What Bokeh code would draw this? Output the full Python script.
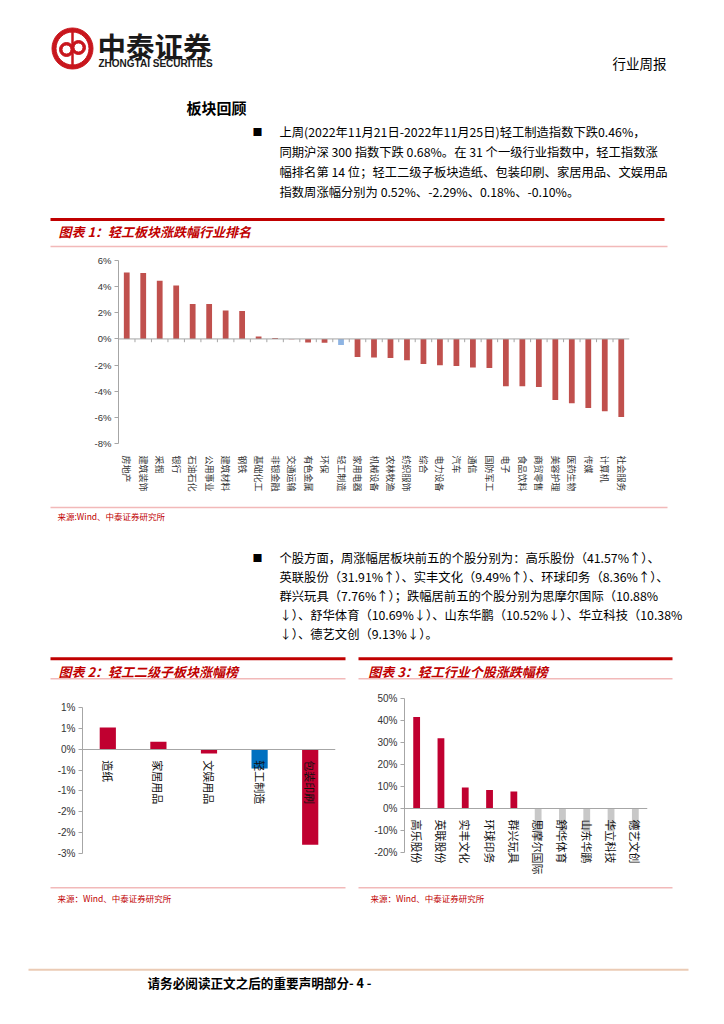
import math
from bokeh.plotting import figure
from bokeh.models import Range1d, FactorRange, Span, FixedTicker, ColumnDataSource
from bokeh.transform import dodge
from bokeh.layouts import column, row
from bokeh.core.properties import value
from bokeh.embed import file_html
from bokeh.resources import INLINE

CN = "Noto Sans CJK SC"
LAT = "Liberation Sans"
RED = "#C00000"
PINK = "#F2B9B9"

# ---------------- data ----------------
cats1 = ["房地产", "建筑装饰", "采掘", "银行", "石油石化", "公用事业", "建筑材料", "钢铁",
         "基础化工", "非银金融", "交通运输", "有色金属", "环保", "轻工制造", "家用电器",
         "机械设备", "农林牧渔", "纺织服饰", "综合", "电力设备", "汽车", "通信", "国防军工",
         "电子", "食品饮料", "商贸零售", "美容护理", "医药生物", "传媒", "计算机", "社会服务"]
vals1 = [5.08, 5.05, 4.46, 4.08, 2.68, 2.68, 2.17, 2.14, 0.18, 0.08, -0.02, -0.28, -0.30,
         -0.46, -1.38, -1.43, -1.45, -1.63, -1.91, -2.02, -2.07, -2.19, -2.22, -3.62, -3.62,
         -3.67, -4.67, -4.92, -5.28, -5.54, -5.97]
ticks1 = [-8, -6, -4, -2, 0, 2, 4, 6]
ticklabels1 = ["-8%", "-6%", "-4%", "-2%", "0%", "2%", "4%", "6%"]

cats2 = ["造纸", "家居用品", "文娱用品", "轻工制造", "包装印刷"]
vals2 = [0.52, 0.18, -0.10, -0.46, -2.29]
ticks2 = [-2.5, -2.0, -1.5, -1.0, -0.5, 0.0, 0.5, 1.0]
ticklabels2 = ["-3%", "-2%", "-2%", "-1%", "-1%", "0%", "1%", "1%"]

cats3 = ["高乐股份", "英联股份", "实丰文化", "环球印务", "群兴玩具",
         "思摩尔国际", "舒华体育", "山东华鹏", "华立科技", "德艺文创"]
vals3 = [41.57, 31.91, 9.49, 8.36, 7.76, -10.88, -10.69, -10.52, -10.38, -9.13]
ticks3 = [-20, -10, 0, 10, 20, 30, 40, 50]
ticklabels3 = ["-20%", "-10%", "0%", "10%", "20%", "30%", "40%", "50%"]

para1 = ["上周(2022年11月21日-2022年11月25日)轻工制造指数下跌0.46%，",
         "同期沪深 300 指数下跌 0.68%。在 31 个一级行业指数中，轻工指数涨",
         "幅排名第 14 位；轻工二级子板块造纸、包装印刷、家居用品、文娱用品",
         "指数周涨幅分别为 0.52%、-2.29%、0.18%、-0.10%。"]
para2 = ["个股方面，周涨幅居板块前五的个股分别为：高乐股份（41.57%↑）、",
         "英联股份（31.91%↑）、实丰文化（9.49%↑）、环球印务（8.36%↑）、",
         "群兴玩具（7.76%↑）；跌幅居前五的个股分别为思摩尔国际（10.88%",
         "↓）、舒华体育（10.69%↓）、山东华鹏（10.52%↓）、华立科技（10.38%",
         "↓）、德艺文创（9.13%↓）。"]
source_text = "来源：Wind、中泰证券研究所"

W = 716


# ---------------- helpers ----------------
def canvas(w, h):
    p = figure(width=w, height=h, x_range=Range1d(0, w), y_range=Range1d(h, 0),
               x_axis_type=None, y_axis_type=None, output_backend="svg",
               toolbar_location=None, min_border=0, frame_align=False)
    p.grid.visible = False
    p.outline_line_color = None
    p.background_fill_color = "white"
    p.border_fill_color = "white"
    return p


def txt(p, top, x, y, s, size=12, color="#000000", font=CN, style="normal", align="left"):
    p.text(x=[x], y=[y - top], text=[s], text_font=value(font),
           text_font_size=f"{size}px", text_color=color, text_font_style=style,
           text_baseline="middle", text_align=align)


def hline(p, top, x0, x1, y, color, width):
    p.segment(x0=[x0], y0=[y - top], x1=[x1], y1=[y - top],
              line_color=color, line_width=width)


def style_chart(p):
    p.grid.visible = False
    p.outline_line_color = None
    p.background_fill_color = "white"
    p.border_fill_color = "white"
    p.yaxis.axis_line_color = "#A6A6A6"
    p.yaxis.major_tick_line_color = "#A6A6A6"
    p.yaxis.major_tick_out = 4
    p.yaxis.major_tick_in = 0
    p.yaxis.minor_tick_line_color = None
    p.yaxis.major_label_text_font = LAT
    p.yaxis.major_label_text_color = "#333333"
    p.yaxis.major_label_standoff = 3
    p.xaxis.major_tick_line_color = None
    p.xaxis.minor_tick_line_color = None
    p.xaxis.major_label_text_font = CN
    p.xaxis.major_label_orientation = -math.pi / 2


# ---------------- A: header + paragraph 1 + chart 1 title ----------------
TA = 0
A = canvas(W, 250)
A.annulus(x=[72], y=[48], inner_radius=16.5, outer_radius=20.5, color="#C8161D")
A.segment(x0=[72], y0=[29], x1=[72], y1=[67], line_color="#C8161D", line_width=2.5)
A.annulus(x=[66, 78], y=[49, 47], inner_radius=4.5, outer_radius=7, color="#C8161D")
txt(A, TA, 97, 45, "中泰证券", size=28.5, color="#1A1A1A", style="bold")
txt(A, TA, 98, 63, "ZHONGTAI SECURITIES", size=10, color="#1A1A1A", font=LAT, style="bold")
txt(A, TA, 612, 62, "行业周报", size=13.5, color="#000000")
txt(A, TA, 186, 107, "板块回顾", size=15, color="#000000", style="bold")
txt(A, TA, 252, 131, "■", size=10, color="#000000")
for i, line in enumerate(para1):
    txt(A, TA, 279, 131 + 20 * i, line, size=12.3, color="#000000")
hline(A, TA, 50, 664, 219, RED, 3)
txt(A, TA, 58, 231, "图表 1：轻工板块涨跌幅行业排名", size=13, color=RED, style="bold italic")
hline(A, TA, 50, 667, 246, PINK, 1.5)

# ---------------- B: chart 1 ----------------
colors1 = ["#8EB4E3" if c == "轻工制造" else "#C0504D" for c in cats1]
src1 = ColumnDataSource(dict(cat=cats1, val=vals1, color=colors1))
B = figure(width=W, height=250, x_range=FactorRange(*cats1, range_padding=0),
           y_range=Range1d(-8, 6), output_backend="svg", toolbar_location=None,
           min_border_left=118, min_border_right=87, min_border_top=10, min_border_bottom=57,
           frame_align=False)
B.vbar(x="cat", top="val", width=0.35, fill_color="color", line_color=None, source=src1)
B.add_layout(Span(location=0, dimension="width", line_color="#A6A6A6", line_width=1))
B.segment(x0=dodge("cat", -0.5, range=B.x_range), y0=0, x1=dodge("cat", -0.5, range=B.x_range),
          y1=-0.25, line_color="#A6A6A6", source=src1)
style_chart(B)
B.yaxis.ticker = FixedTicker(ticks=ticks1)
B.yaxis.major_label_overrides = dict(zip(ticks1, ticklabels1))
B.yaxis.major_label_text_font_size = "9.5px"
B.xaxis.axis_line_color = None
B.xaxis.major_label_text_font_size = "9px"
B.xaxis.major_label_text_color = "#333333"
B.xaxis.major_label_standoff = 6

# ---------------- C: source 1 + paragraph 2 + chart 2/3 titles ----------------
TC = 500
C = canvas(W, 190)
hline(C, TC, 50, 667, 507, PINK, 1.5)
txt(C, TC, 57, 515.5, source_text.replace("：", ":"), size=8.5, color=RED)
txt(C, TC, 252, 557, "■", size=10, color="#000000")
for i, line in enumerate(para2):
    txt(C, TC, 279, 557 + 19 * i, line, size=12.3, color="#000000")
hline(C, TC, 50, 345, 658.3, RED, 3)
hline(C, TC, 358, 672, 658.3, RED, 3)
txt(C, TC, 58, 670.7, "图表 2：轻工二级子板块涨幅榜", size=13, color=RED, style="bold italic")
txt(C, TC, 367.7, 670.7, "图表 3：轻工行业个股涨跌幅榜", size=13, color=RED, style="bold italic")
hline(C, TC, 50, 345, 678.3, PINK, 1.5)
hline(C, TC, 358, 672, 678.3, PINK, 1.5)

# ---------------- D: chart 2 ----------------
colors2 = ["#0070C0" if c == "轻工制造" else "#C00030" for c in cats2]
src2 = ColumnDataSource(dict(cat=cats2, val=vals2, color=colors2))
D = figure(width=358, height=195, x_range=FactorRange(*cats2, range_padding=0),
           y_range=Range1d(-2.5, 1.0), output_backend="svg", toolbar_location=None,
           min_border_left=82, min_border_right=23, min_border_top=17, min_border_bottom=32,
           frame_align=False)
D.vbar(x="cat", top="val", width=0.32, fill_color="color", line_color=None, source=src2)
style_chart(D)
D.yaxis.ticker = FixedTicker(ticks=ticks2)
D.yaxis.major_label_overrides = dict(zip(ticks2, ticklabels2))
D.yaxis.major_label_text_font_size = "10px"
D.xaxis.fixed_location = 0
D.xaxis.axis_line_color = "#A6A6A6"
D.xaxis.major_label_text_font_size = "11px"
D.xaxis.major_label_text_color = "#111111"
D.xaxis.major_label_standoff = 5

# ---------------- E: chart 3 ----------------
colors3 = ["#C00030" if v >= 0 else "#C8C8C8" for v in vals3]
src3 = ColumnDataSource(dict(cat=cats3, val=vals3, color=colors3))
E = figure(width=358, height=195, x_range=FactorRange(*cats3, range_padding=0),
           y_range=Range1d(-20, 50), output_backend="svg", toolbar_location=None,
           min_border_left=46, min_border_right=69, min_border_top=8, min_border_bottom=33,
           frame_align=False)
E.vbar(x="cat", top="val", width=0.28, fill_color="color", line_color=None, source=src3)
E.add_layout(Span(location=0, dimension="width", line_color="#A6A6A6", line_width=1))
style_chart(E)
E.yaxis.ticker = FixedTicker(ticks=ticks3)
E.yaxis.major_label_overrides = dict(zip(ticks3, ticklabels3))
E.yaxis.major_label_text_font_size = "10px"
E.xaxis.axis_line_color = None
E.xaxis.major_label_text_font_size = "11px"
E.xaxis.major_label_text_color = "#111111"
E.xaxis.major_label_standoff = -39

# ---------------- F: sources + footer ----------------
TF = 885
F = canvas(W, 131)
hline(F, TF, 50, 345, 887.3, PINK, 1.5)
hline(F, TF, 358, 672, 887.3, PINK, 1.5)
txt(F, TF, 57, 897.5, source_text, size=8.5, color=RED)
txt(F, TF, 370, 897.5, source_text, size=8.5, color=RED)
hline(F, TF, 28, 688, 969.3, "#EBCBB5", 2)
txt(F, TF, 147, 981.7, "请务必阅读正文之后的重要声明部分- 4 -", size=12.6, color="#000000", style="bold")

layout = column(A, B, C, row(D, E), F)
open("out.html", "w").write(file_html(layout, INLINE))
